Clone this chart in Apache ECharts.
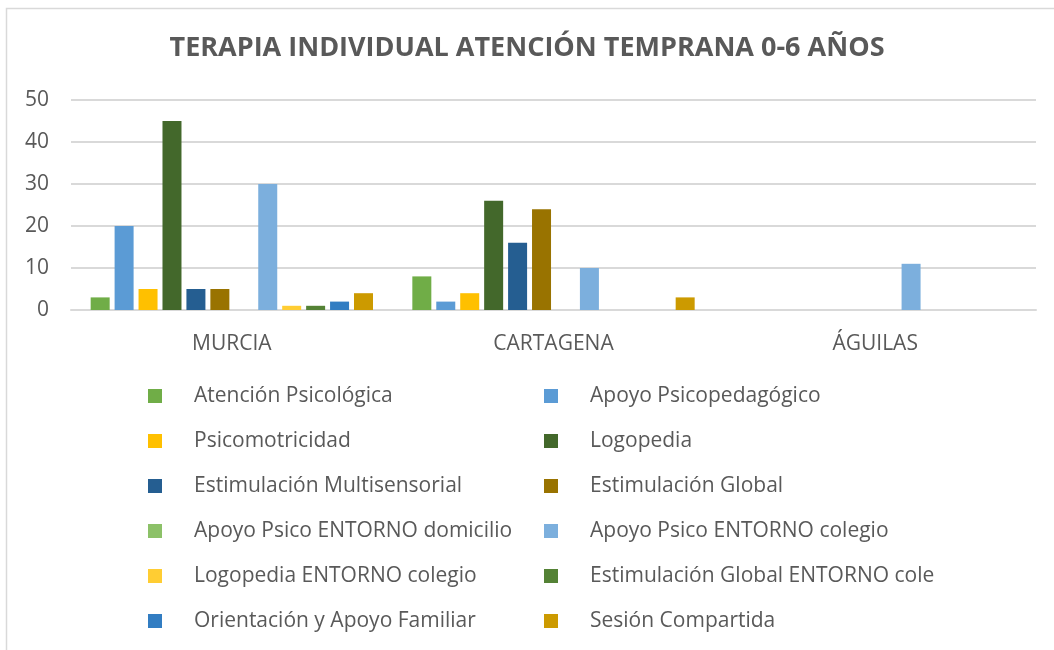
<!DOCTYPE html>
<html>
<head>
<meta charset="utf-8">
<title>Terapia individual</title>
<script src="https://cdn.jsdelivr.net/npm/echarts@6/dist/echarts.min.js"></script>
<style>
  html, body { margin: 0; padding: 0; background: #fff; }
  #main { width: 1054px; height: 650px; }
</style>
</head>
<body>
<div id="main"></div>
<script>
// datos
var centros = ['MURCIA', 'CARTAGENA', 'ÁGUILAS'];
var yTicks = [0, 10, 20, 30, 40, 50];

var atencionPsicologica   = [3, 8, 0];
var apoyoPsicopedagogico  = [20, 2, 0];
var psicomotricidad       = [5, 4, 0];
var logopedia             = [45, 26, 0];
var estimMultisensorial   = [5, 16, 0];
var estimGlobal           = [5, 24, 0];
var apoyoDomicilio        = [0, 0, 0];
var apoyoColegio          = [30, 10, 11];
var logopediaColegio      = [1, 0, 0];
var estimGlobalCole       = [1, 0, 0];
var orientacionFamiliar   = [2, 0, 0];
var sesionCompartida      = [4, 3, 0];

var series_def = [
    ['Atención Psicológica', atencionPsicologica, '#70AD47'],
    ['Apoyo Psicopedagógico', apoyoPsicopedagogico, '#5B9BD5'],
    ['Psicomotricidad', psicomotricidad, '#FFC000'],
    ['Logopedia', logopedia, '#43682B'],
    ['Estimulación Multisensorial', estimMultisensorial, '#255E91'],
    ['Estimulación Global', estimGlobal, '#997300'],
    ['Apoyo Psico ENTORNO domicilio', apoyoDomicilio, '#8CC168'],
    ['Apoyo Psico ENTORNO colegio', apoyoColegio, '#7CAFDD'],
    ['Logopedia ENTORNO colegio', logopediaColegio, '#FFCD33'],
    ['Estimulación Global ENTORNO cole', estimGlobalCole, '#548235'],
    ['Orientación y Apoyo Familiar', orientacionFamiliar, '#327DC2'],
    ['Sesión Compartida', sesionCompartida, '#CC9A00']
];

var txt = '#595959';
var fuente = 'Open Sans';

var myChart = echarts.init(document.getElementById('main'));

var series = series_def.map(function (s) {
    return {
        name: s[0],
        type: 'bar',
        data: s[1],
        barWidth: 19,
        barGap: '26%',
        itemStyle: { color: s[2] }
    };
});

var izq = [], der = [];
series_def.forEach(function (s, i) {
    (i % 2 === 0 ? izq : der).push(s[0]);
});

var leyenda = function (datos, x) {
    return {
        data: datos,
        orient: 'vertical',
        left: x,
        top: 379,
        icon: 'rect',
        itemWidth: 14,
        itemHeight: 14,
        itemGap: 21,
        textStyle: {
            fontFamily: fuente,
            fontSize: 21,
            color: txt,
            lineHeight: 24,
            padding: [0, 0, 0, 27]
        }
    };
};

var option = {
    animation: false,
    title: {
        text: 'TERAPIA INDIVIDUAL ATENCIÓN TEMPRANA 0-6 AÑOS',
        left: 'center',
        top: 30,
        textStyle: {
            fontFamily: fuente,
            fontSize: 27,
            fontWeight: 'bold',
            color: txt
        }
    },
    graphic: [{
        type: 'rect',
        shape: { x: 6.5, y: 8.5, width: 1200, height: 800 },
        style: { fill: 'none', stroke: '#D9D9D9', lineWidth: 1.5 },
        silent: true
    }],
    legend: [leyenda(izq, 143), leyenda(der, 539)],
    grid: {
        left: 71,
        right: 18,
        top: 100,
        height: 210,
        containLabel: false
    },
    xAxis: {
        type: 'category',
        data: centros,
        axisTick: { show: false },
        axisLine: { lineStyle: { color: '#D9D9D9', width: 2 } },
        axisLabel: { fontFamily: fuente, fontSize: 21, color: txt, margin: 24 }
    },
    yAxis: {
        type: 'value',
        min: yTicks[0],
        max: yTicks[yTicks.length - 1],
        interval: yTicks[1] - yTicks[0],
        axisLine: { show: false },
        axisTick: { show: false },
        axisLabel: { fontFamily: fuente, fontSize: 21, color: txt, margin: 22 },
        splitLine: { lineStyle: { color: '#D9D9D9', width: 2 } }
    },
    series: series
};

myChart.setOption(option);
</script>
</body>
</html>
